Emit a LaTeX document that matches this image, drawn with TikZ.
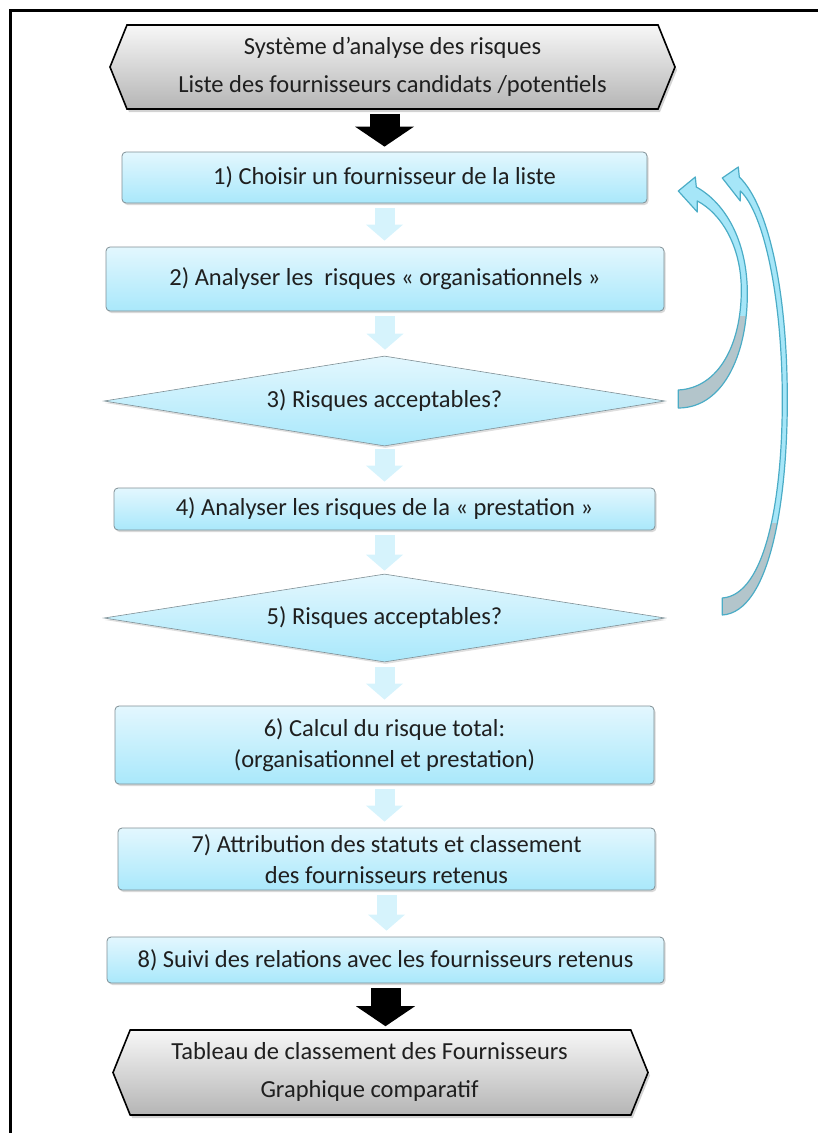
\documentclass[tikz,border=0pt]{standalone}
\usepackage{fontspec}
\setmainfont{Carlito}
\usepackage{tikz}
\usetikzlibrary{arrows.meta, positioning, shapes.geometric, shapes.symbols, calc, shadows}

\definecolor{boxtop}{HTML}{E3F7FE}
\definecolor{boxbot}{HTML}{A9E8FB}
\definecolor{boxline}{HTML}{7F8F95}
\definecolor{flowcol}{HTML}{D6F3FC}
\definecolor{ribfill}{HTML}{A6E6F8}
\definecolor{ribline}{HTML}{4BACC6}
\definecolor{ribgray}{HTML}{B3C5CB}
\definecolor{hextop}{HTML}{F7F7F7}
\definecolor{hexbot}{HTML}{B5B5B5}

\begin{document}
\begin{tikzpicture}[
    x=1pt, y=-1pt,
    every node/.style={font=\fontsize{24.5}{31}\selectfont, text=black!88},
    box/.style={rectangle, draw=boxline, line width=0.8pt, rounded corners=4pt, inner sep=0pt, align=center,
        top color=boxtop, bottom color=boxbot, drop shadow={opacity=0.3, shadow xshift=1.5pt, shadow yshift=-2pt}},
    decision/.style={diamond, aspect=6.3, draw=boxline, line width=0.6pt, inner sep=0pt,
        top color=boxtop, bottom color=boxbot, drop shadow={opacity=0.25, shadow xshift=1pt, shadow yshift=-2pt}},
    hexbox/.style={signal, signal to=west and east, signal pointer angle=136, draw=black, line width=1.6pt,
        inner sep=0pt, align=center, top color=hextop, bottom color=hexbot,
        drop shadow={opacity=0.35, shadow xshift=2pt, shadow yshift=-3pt}},
    flowarrow/.style={draw=flowcol, line width=20pt, -{Triangle[width=37pt, length=16pt, line width=0pt]},
        shorten <=5pt, shorten >=6pt},
    blackarrow/.style={draw=black, line width=30pt, -{Triangle[width=59pt, length=20pt, line width=0pt]}},
    ribbon/.style={draw=ribline, line width=1.2pt, line join=round}
]
\useasboundingbox (0,0) rectangle (817,1133);

% frame
\draw[line width=3pt] (10,1140) -- (10,10) -- (830,10);

% Inputs
\node[hexbox, minimum width=565pt, minimum height=84pt] (inputs) at (392.5,67)
    {Système d’analyse des risques\\[7pt]Liste des fournisseurs candidats /potentiels};

% Steps
\node[box, minimum width=525pt, minimum height=51pt] (b1) at (384.5,177.5) {1) Choisir un fournisseur de la liste};
\node[box, minimum width=558pt, minimum height=64pt] (b2) at (385,279) {2) Analyser les\ \ risques « organisationnels »};
\node[decision, minimum width=561pt, minimum height=90pt] (d3) at (384.5,401) {3) Risques acceptables?};
\node[box, minimum width=541pt, minimum height=42pt] (b4) at (384.5,509) {4) Analyser les risques de la « prestation »};
\node[decision, minimum width=561pt, minimum height=88pt] (d5) at (384.5,618) {5) Risques acceptables?};
\node[box, minimum width=539pt, minimum height=78pt] (b6) at (384.5,745) {6) Calcul du risque total:\\(organisationnel et prestation)};
\node[box, minimum width=537pt, minimum height=62pt] (b7) at (386.5,859) {7) Attribution des statuts et classement\\des fournisseurs retenus};
\node[box, minimum width=557pt, minimum height=46pt] (b8) at (385.5,960) {8) Suivi des relations avec les fournisseurs retenus};

% Outputs
\node[hexbox, minimum width=535pt, minimum height=85pt] (outputs) at (380.5,1072.5)
    {\begin{tabular}{@{}c@{}}Tableau de classement des Fournisseurs\\[7pt]Graphique comparatif\end{tabular}\hspace*{22pt}};

% Arrows between steps
\draw[blackarrow, shorten <=4pt, shorten >=5pt] (b1.north |- inputs.south) -- (b1.north);
\draw[flowarrow] (b1.south) -- (b1.south |- b2.north);
\draw[flowarrow] (b2.south) -- (b2.south |- d3.north);
\draw[flowarrow, shorten <=3pt] (d3.south) -- (d3.south |- b4.north);
\draw[flowarrow, shorten >=3pt] (b4.south) -- (b4.south |- d5.north);
\draw[flowarrow] (d5.south) -- (d5.south |- b6.north);
\draw[flowarrow] (b6.south) -- (b6.south |- b7.north);
\draw[flowarrow] (b7.south) -- (b7.south |- b8.north);
\draw[blackarrow, shorten <=5pt, shorten >=3pt] (b8.south) -- (b8.south |- outputs.north);

% loop back from 3)
\begin{scope}[shift={(d3.east)}]
\path[save path=\loopa] (13,7) .. controls (60,7) and (83,-51) .. (82,-111)
  .. controls (81,-161) and (60,-198) .. (31,-214) -- (30,-224) -- (13,-210) -- (32,-189) -- (32,-200)
  .. controls (55,-188) and (76,-156) .. (76,-111)
  .. controls (76,-56) and (53,-13) .. (13,-11) -- cycle;
\fill[ribfill, use path=\loopa];
\begin{scope}
  \clip (0,-85) rectangle (100,20);
  \fill[ribgray, use path=\loopa];
\end{scope}
\draw[ribbon, use path=\loopa];
\end{scope}

% loop back from 5)
\begin{scope}[shift={(d5.east)}]
\path[save path=\loopb] (57,-3) .. controls (105,-6) and (122,-118) .. (122,-218)
  .. controls (122,-328) and (103,-413) .. (74,-441) -- (73,-451) -- (57,-440) -- (75,-417) -- (75,-427)
  .. controls (99,-405) and (117,-318) .. (117,-218)
  .. controls (117,-118) and (100,-23) .. (57,-20) -- cycle;
\fill[ribfill, use path=\loopb];
\begin{scope}
  \clip (40,-95) rectangle (140,10);
  \fill[ribgray, use path=\loopb];
\end{scope}
\draw[ribbon, use path=\loopb];
\end{scope}

\end{tikzpicture}
\end{document}
